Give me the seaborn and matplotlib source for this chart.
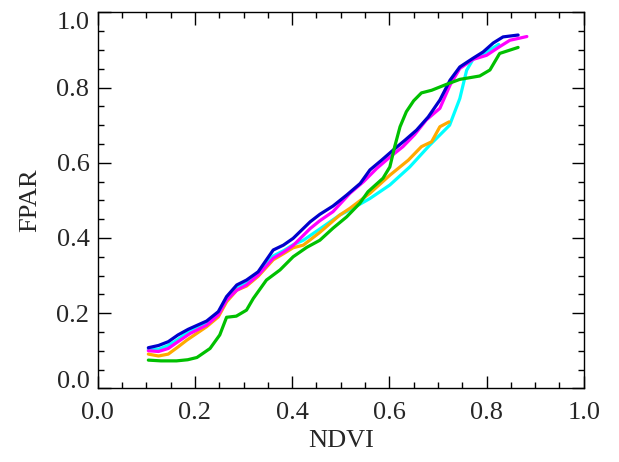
## ***************************************************************************
## * LIBRARIES                                                               *
## ***************************************************************************
import numpy as np
import pandas as pd
import matplotlib as mpl
import matplotlib.pyplot as plt
import seaborn as sns
from matplotlib.ticker import MultipleLocator, FuncFormatter

## ***************************************************************************
## * DATA                                           *
## ***************************************************************************
blue_x = [0.104, 0.125, 0.145, 0.165, 0.186, 0.205, 0.224, 0.248, 0.265, 0.286, 0.306, 0.330,
          0.361, 0.382, 0.402, 0.437, 0.457, 0.484, 0.512, 0.540, 0.560, 0.584, 0.608, 0.632,
          0.656, 0.680, 0.704, 0.725, 0.745, 0.772, 0.793, 0.814, 0.834, 0.865]
blue_y = [0.108, 0.114, 0.124, 0.142, 0.157, 0.168, 0.179, 0.204, 0.244, 0.275, 0.288, 0.310,
          0.368, 0.381, 0.399, 0.443, 0.463, 0.485, 0.514, 0.545, 0.581, 0.607, 0.634, 0.660,
          0.687, 0.722, 0.767, 0.820, 0.855, 0.878, 0.895, 0.919, 0.935, 0.940]

magenta_x = [0.104, 0.125, 0.145, 0.165, 0.190, 0.224, 0.248, 0.265, 0.286, 0.306, 0.330, 0.361,
             0.382, 0.402, 0.437, 0.457, 0.484, 0.519, 0.547, 0.574, 0.600, 0.628, 0.652, 0.676,
             0.704, 0.725, 0.745, 0.772, 0.800, 0.827, 0.848, 0.883]
magenta_y = [0.100, 0.098, 0.106, 0.124, 0.146, 0.168, 0.195, 0.235, 0.261, 0.275, 0.301, 0.346,
             0.362, 0.380, 0.425, 0.446, 0.470, 0.519, 0.550, 0.585, 0.614, 0.643, 0.675, 0.714,
             0.745, 0.807, 0.851, 0.875, 0.886, 0.909, 0.926, 0.936]

cyan_x = [0.104, 0.125, 0.145, 0.165, 0.186, 0.224, 0.248, 0.265, 0.286, 0.306, 0.330, 0.361,
          0.382, 0.402, 0.423, 0.457, 0.498, 0.519, 0.560, 0.601, 0.642, 0.683, 0.724, 0.745,
          0.759, 0.772, 0.800, 0.825]
cyan_y = [0.104, 0.104, 0.114, 0.130, 0.150, 0.172, 0.198, 0.238, 0.266, 0.280, 0.305, 0.352,
          0.366, 0.382, 0.394, 0.424, 0.461, 0.475, 0.505, 0.541, 0.589, 0.647, 0.700, 0.771,
          0.846, 0.875, 0.895, 0.915]

orange_x = [0.104, 0.125, 0.145, 0.165, 0.183, 0.224, 0.248, 0.265, 0.286, 0.306, 0.330, 0.361,
            0.382, 0.402, 0.423, 0.457, 0.498, 0.519, 0.560, 0.601, 0.639, 0.666, 0.687, 0.704,
            0.723]
orange_y = [0.091, 0.086, 0.091, 0.110, 0.128, 0.164, 0.190, 0.230, 0.261, 0.272, 0.298, 0.342,
            0.358, 0.374, 0.381, 0.415, 0.461, 0.479, 0.519, 0.567, 0.607, 0.643, 0.656, 0.696,
            0.709]

green_x = [0.104, 0.130, 0.162, 0.185, 0.204, 0.231, 0.251, 0.265, 0.285, 0.306, 0.320, 0.347,
           0.375, 0.402, 0.430, 0.457, 0.484, 0.512, 0.539, 0.556, 0.587, 0.601, 0.611, 0.622,
           0.635, 0.650, 0.666, 0.687, 0.718, 0.745, 0.786, 0.807, 0.827, 0.865]
green_y = [0.075, 0.073, 0.073, 0.076, 0.082, 0.106, 0.142, 0.189, 0.192, 0.208, 0.239, 0.288,
           0.315, 0.350, 0.375, 0.394, 0.426, 0.456, 0.492, 0.523, 0.559, 0.589, 0.643, 0.696,
           0.736, 0.765, 0.786, 0.793, 0.809, 0.822, 0.831, 0.847, 0.891, 0.907]

series_names = ['cyan', 'orange', 'magenta', 'blue', 'green']   # drawing order
series_colors = ['#00FFFF', '#FFAA00', '#FF00FF', '#0000CC', '#00C000']

## long table for seaborn
frames = []
for name, xs, ys in zip(series_names,
                        [cyan_x, orange_x, magenta_x, blue_x, green_x],
                        [cyan_y, orange_y, magenta_y, blue_y, green_y]):
    frames.append(pd.DataFrame({'NDVI': xs, 'FPAR': ys, 'series': name}))
df = pd.concat(frames, ignore_index=True)

## ***************************************************************************
## * STYLE                                                                   *
## ***************************************************************************
FS = 19
sns.set_style('ticks')
mpl.rcParams['font.family'] = ['Liberation Serif', 'DejaVu Serif']
mpl.rcParams['font.size'] = FS
mpl.rcParams['axes.linewidth'] = 1.0
mpl.rcParams['xtick.direction'] = 'in'
mpl.rcParams['ytick.direction'] = 'in'

## ***************************************************************************
## * FIGURE                                                                  *
## ***************************************************************************
fig = plt.figure(figsize=(6.19, 4.62), dpi=100)
ax = fig.add_axes([0.158, 0.1595, 0.785, 0.8135])

sns.lineplot(data=df, x='NDVI', y='FPAR', hue='series', hue_order=series_names,
             palette=series_colors, estimator=None, sort=False, linewidth=2.3,
             legend=False, ax=ax)

ax.set_xlim(0, 1)
ax.set_ylim(0, 1)
ax.xaxis.set_major_locator(MultipleLocator(0.2))
ax.yaxis.set_major_locator(MultipleLocator(0.2))
ax.xaxis.set_minor_locator(MultipleLocator(0.05))
ax.yaxis.set_minor_locator(MultipleLocator(0.05))
ax.tick_params(which='both', top=True, right=True, color='black', width=1.0)
ax.tick_params(which='major', length=9)
ax.tick_params(which='minor', length=4.5)
ax.tick_params(axis='x', which='major', pad=10, labelsize=FS)
ax.tick_params(axis='y', which='major', pad=6, labelsize=FS)
ax.xaxis.set_major_formatter(mpl.ticker.FormatStrFormatter('%.1f'))
## y end labels are drawn separately (pulled inside the range, IDL style)
ax.yaxis.set_major_formatter(FuncFormatter(
    lambda v, p: '' if (abs(v) < 1e-6 or abs(v - 1) < 1e-6) else '%.1f' % v))
for s in ax.spines.values():
    s.set_color('black')

ytr = ax.get_yaxis_transform()
ax.text(-0.016, 0.0, '0.0', transform=ytr, ha='right', va='baseline', fontsize=FS)
ax.text(-0.016, 1.0, '1.0', transform=ytr, ha='right', va='top', fontsize=FS)

ax.set_xlabel('NDVI', fontsize=FS)
ax.set_ylabel('FPAR', fontsize=FS)
ax.xaxis.set_label_coords(0.5, -0.14)
ax.yaxis.set_label_coords(-0.14, 0.5)
ax.xaxis.label.set_va('center')
ax.yaxis.label.set_va('center')

fig.savefig('out.png', dpi=100)
